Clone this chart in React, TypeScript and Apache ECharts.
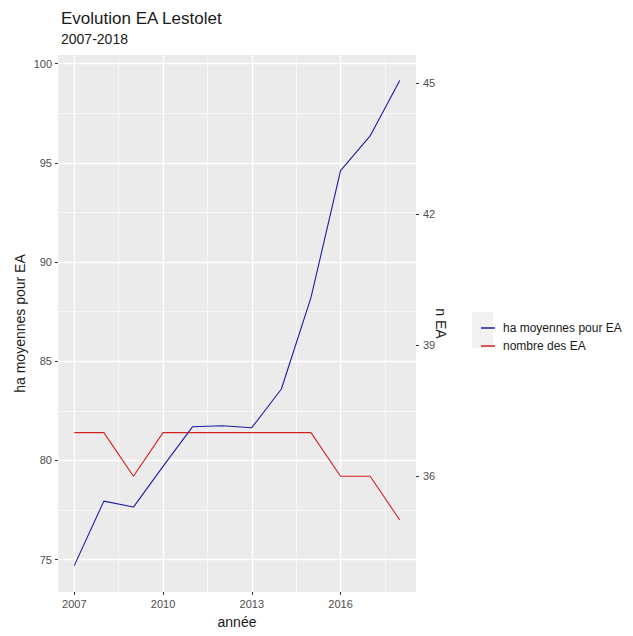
import React, { useEffect, useRef } from "react";
import * as echarts from "echarts";

const years = [2007, 2008, 2009, 2010, 2011, 2012, 2013, 2014, 2015, 2016, 2017, 2018];
const haMoyennes = [74.7, 77.95, 77.65, 79.7, 81.7, 81.75, 81.65, 83.6, 88.2, 94.6, 96.35, 99.15];
const nombreEA = [37, 37, 36, 37, 37, 37, 37, 37, 37, 36, 36, 35];
const xTicks = [2007, 2010, 2013, 2016];
const xMinor = [2008.5, 2011.5, 2014.5, 2017.5];
const yTicks = [75, 80, 85, 90, 95, 100];
const yMinor = [77.5, 82.5, 87.5, 92.5, 97.5];
const y2Ticks = [36, 39, 42, 45];
const secFactor = 2.2;

const FONT = "Liberation Sans, Arial, sans-serif";

export default function App() {
  const ref = useRef<HTMLDivElement>(null);
  useEffect(() => {
    if (!ref.current) return;
    const chart = echarts.init(ref.current, undefined, { renderer: "svg" });
    const xMin = 2006.45, xMax = 2018.55;
    const yMin = 73.37, yMax = 100.43;
    const hidden = { show: false };
    const gridLines = (xs: number[], ys: number[], width: number, z: number) => ({
      silent: true,
      z,
      symbol: ["none", "none"],
      label: { show: false },
      emphasis: { disabled: true },
      lineStyle: { color: "#ffffff", width, type: "solid" },
      data: [...xs.map((v) => ({ xAxis: v })), ...ys.map((v) => ({ yAxis: v }))],
    });
    chart.setOption({
      animation: false,
      backgroundColor: "#ffffff",
      textStyle: { fontFamily: FONT },
      title: {
        text: "Evolution EA Lestolet",
        subtext: "2007-2018",
        left: 56,
        top: 5,
        itemGap: 5,
        textStyle: { fontFamily: FONT, fontSize: 17, fontWeight: "normal", color: "#1a1a1a" },
        subtextStyle: { fontFamily: FONT, fontSize: 14, color: "#1a1a1a" },
      },
      grid: [{ left: 58, top: 55, width: 358, height: 537, show: true, backgroundColor: "#EBEBEB", borderWidth: 0 }],
      legend: {
        orient: "vertical",
        left: 476,
        top: 316,
        itemGap: 4,
        itemWidth: 14,
        itemHeight: 1.5,
        icon: "rect",
        data: ["ha moyennes pour EA", "nombre des EA"],
        textStyle: { fontFamily: FONT, fontSize: 12, color: "#1a1a1a", lineHeight: 14, padding: [0, 0, 0, 3] },
      },
      graphic: [
        { type: "rect", left: 472, top: 312, shape: { width: 21, height: 36 }, style: { fill: "#F2F2F2" }, z: -1 },
      ],
      xAxis: [
        {
          type: "value",
          gridIndex: 0,
          min: xMin,
          max: xMax,
          name: "année",
          nameLocation: "middle",
          nameGap: 23,
          nameTextStyle: { fontFamily: FONT, fontSize: 14, color: "#1a1a1a" },
          axisLine: hidden,
          axisTick: { show: true, length: 3, customValues: xTicks, lineStyle: { color: "#333333" } },
          axisLabel: {
            customValues: xTicks,
            fontSize: 11,
            color: "#4d4d4d",
            margin: 6,
            fontFamily: FONT,
            formatter: (v: number) => String(v),
          },
          splitLine: { show: false },
        },
      ],
      yAxis: [
        {
          type: "value",
          gridIndex: 0,
          min: yMin,
          max: yMax,
          name: "ha moyennes pour EA",
          nameLocation: "middle",
          nameGap: 31,
          nameMoveOverlap: false,
          nameTextStyle: { fontFamily: FONT, fontSize: 14, color: "#1a1a1a" },
          axisLine: hidden,
          axisTick: { show: true, length: 3, customValues: yTicks, lineStyle: { color: "#333333" } },
          axisLabel: { customValues: yTicks, fontSize: 11, color: "#4d4d4d", margin: 6, fontFamily: FONT },
          splitLine: { show: false },
        },
        {
          type: "value",
          gridIndex: 0,
          min: yMin / secFactor,
          max: yMax / secFactor,
          position: "right",
          name: "n EA",
          nameLocation: "middle",
          nameGap: 18,
          nameMoveOverlap: false,
          nameRotate: -90,
          nameTextStyle: { fontFamily: FONT, fontSize: 14, color: "#1a1a1a" },
          axisLine: hidden,
          axisTick: { show: true, length: 3, customValues: y2Ticks, lineStyle: { color: "#333333" } },
          axisLabel: { customValues: y2Ticks, fontSize: 11, color: "#4d4d4d", margin: 7, fontFamily: FONT },
          splitLine: { show: false },
        },
      ],
      series: [
        {
          name: "minorGrid",
          type: "line",
          xAxisIndex: 0,
          yAxisIndex: 0,
          data: [],
          z: 1,
          markLine: gridLines(xMinor, yMinor, 0.6, 1),
        },
        {
          name: "majorGrid",
          type: "line",
          xAxisIndex: 0,
          yAxisIndex: 0,
          data: [],
          z: 2,
          markLine: gridLines(xTicks, yTicks, 1.3, 2),
        },
        {
          name: "ha moyennes pour EA",
          type: "line",
          xAxisIndex: 0,
          yAxisIndex: 0,
          data: years.map((y, i) => [y, haMoyennes[i]]),
          showSymbol: false,
          symbol: "none",
          lineStyle: { color: "#1c1ca8", width: 1.1 },
          itemStyle: { color: "#1c1ca8" },
          z: 6,
        },
        {
          name: "nombre des EA",
          type: "line",
          xAxisIndex: 0,
          yAxisIndex: 1,
          data: years.map((y, i) => [y, nombreEA[i]]),
          showSymbol: false,
          symbol: "none",
          lineStyle: { color: "#d42020", width: 1.1 },
          itemStyle: { color: "#d42020" },
          z: 5,
        },
      ],
    });
    return () => chart.dispose();
  }, []);
  return <div ref={ref} style={{ width: 633, height: 636, position: "absolute", left: 0, top: 0 }} />;
}
